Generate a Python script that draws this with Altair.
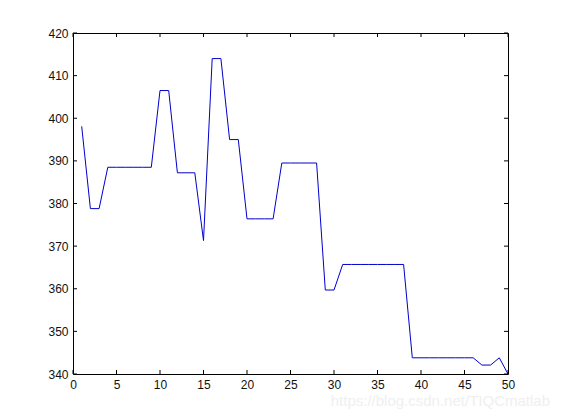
import altair as alt
import pandas as pd

x_vals = list(range(1, 51))
y_vals = [398.1, 378.8, 378.8, 388.5, 388.5, 388.5, 388.5, 388.5, 388.5, 406.5,
          406.5, 387.2, 387.2, 387.2, 371.3, 414.0, 414.0, 395.0, 395.0, 376.4,
          376.4, 376.4, 376.4, 389.5, 389.5, 389.5, 389.5, 389.5, 359.7, 359.7,
          365.7, 365.7, 365.7, 365.7, 365.7, 365.7, 365.7, 365.7, 343.8, 343.8,
          343.8, 343.8, 343.8, 343.8, 343.8, 343.8, 342.1, 342.1, 343.8, 340.0]
x_ticks = [0, 5, 10, 15, 20, 25, 30, 35, 40, 45, 50]
y_ticks = [340, 350, 360, 370, 380, 390, 400, 410, 420]
watermark = "https://blog.csdn.net/TIQCmatlab"

W, H = 435, 341
FONT = "Liberation Sans"

df = pd.DataFrame({"x": x_vals, "y": y_vals})
xt = pd.DataFrame({"x": x_ticks})
yt = pd.DataFrame({"y": y_ticks})

xs = alt.Scale(domain=[0, 50], nice=False, zero=False)
ys = alt.Scale(domain=[340, 420], nice=False, zero=False)

x_axis = alt.Axis(values=x_ticks, title=None, ticks=False, grid=False, domain=False,
                  labelFont=FONT, labelFontSize=12, labelColor="#111111", labelPadding=5,
                  labelFlush=False)
y_axis = alt.Axis(values=y_ticks, title=None, ticks=False, grid=False, domain=False,
                  labelFont=FONT, labelFontSize=12, labelColor="#111111", labelPadding=5)

line = alt.Chart(df).mark_line(color="#0000cc", strokeWidth=1, clip=True).encode(
    x=alt.X("x:Q", scale=xs, axis=x_axis),
    y=alt.Y("y:Q", scale=ys, axis=y_axis),
)

tick_len = 4
bottom_ticks = alt.Chart(xt).mark_rule(color="black", strokeWidth=1).encode(
    x=alt.X("x:Q", scale=xs), y=alt.value(H), y2=alt.value(H - tick_len))
top_ticks = alt.Chart(xt).mark_rule(color="black", strokeWidth=1).encode(
    x=alt.X("x:Q", scale=xs), y=alt.value(0), y2=alt.value(tick_len))
left_ticks = alt.Chart(yt).mark_rule(color="black", strokeWidth=1).encode(
    y=alt.Y("y:Q", scale=ys), x=alt.value(0), x2=alt.value(tick_len))
right_ticks = alt.Chart(yt).mark_rule(color="black", strokeWidth=1).encode(
    y=alt.Y("y:Q", scale=ys), x=alt.value(W), x2=alt.value(W - tick_len))

wm = alt.Chart(pd.DataFrame({"t": [watermark]})).mark_text(
    font=FONT, fontSize=15, color="#efefef", align="right", baseline="alphabetic"
).encode(text="t:N", x=alt.value(W + 42), y=alt.value(H + 32))

chart = alt.layer(line, bottom_ticks, top_ticks, left_ticks, right_ticks, wm).properties(
    width=W, height=H,
    background="white",
    autosize=alt.AutoSizeParams(type="none"),
    padding={"left": 65, "top": 25, "right": 45, "bottom": 38},
).configure_view(stroke="black", strokeWidth=1)

chart.save("out.html", embed_options={"renderer": "svg", "actions": False})
